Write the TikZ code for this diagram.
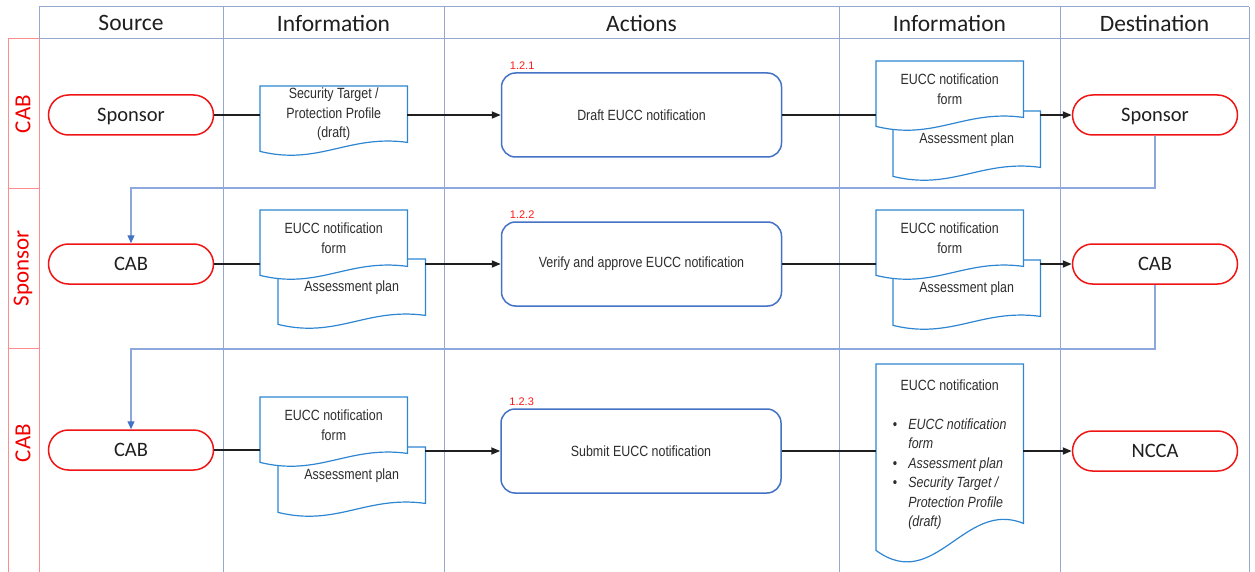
\documentclass[tikz,border=0pt]{standalone}
\usepackage{fontspec}
\setmainfont{Carlito}
\newfontfamily\docfont[FakeStretch=0.84]{Liberation Sans}
\newfontfamily\numfont{Liberation Sans}
\usetikzlibrary{arrows.meta,calc,backgrounds}

\definecolor{gridc}{RGB}{150,168,206}
\definecolor{lanered}{RGB}{255,140,140}
\definecolor{termred}{RGB}{240,20,20}
\definecolor{docblue}{RGB}{46,134,210}
\definecolor{actblue}{RGB}{68,114,196}
\definecolor{fbblue}{RGB}{140,168,220}
\definecolor{txt}{RGB}{45,45,45}

% document symbol: rectangle with a wavy lower edge; #2 = drop of the left corner
\newcommand\docshape[2]{%
  \filldraw[docline] let \p1=(#1.north west), \p2=(#1.south east) in
    (\p1) -- (\x2,\y1) -- (\p2)
    .. controls ({\x1+0.6*(\x2-\x1)},{\y2+0.9*#2pt}) and ({\x1+0.4*(\x2-\x1)},{\y2-2.6*#2pt})
    .. (\x1,{\y2-#2pt}) -- cycle;}

\begin{document}
\begin{tikzpicture}[x=1pt,y=-1pt,
  gridline/.style={draw=gridc, line width=1pt},
  laneline/.style={draw=lanered, line width=1pt},
  head/.style={font=\fontsize{23.5}{28}\selectfont, text=black!88},
  lanelab/.style={rotate=90, text=red!95!black, font=\fontsize{23}{27}\selectfont},
  term/.style={draw=termred, line width=1.5pt, fill=white, rounded corners=20pt,
    minimum width=165pt, minimum height=40pt, inner sep=0pt,
    font=\fontsize{20.5}{24}\selectfont, text=black!88, text height=13.2pt, text depth=0pt},
  act/.style={draw=actblue, line width=1.5pt, fill=white, rounded corners=14pt,
    minimum width=280pt, minimum height=84pt, inner sep=0pt,
    font=\docfont\fontsize{14.8}{19.5}\selectfont, text=txt},
  doc/.style={anchor=north west, minimum width=147pt, minimum height=56pt, inner sep=0pt,
    align=center, font=\docfont\fontsize{14.8}{19.5}\selectfont, text=txt},
  docline/.style={draw=docblue, line width=1.2pt, fill=white},
  stepnum/.style={anchor=base west, inner sep=0pt, text=red!90!white,
    font=\numfont\fontsize{11}{13}\selectfont},
  flow/.style={draw=black!88, line width=1.8pt},
  flowarrow/.style={flow, -{Triangle[length=9pt,width=7pt]}},
  fb/.style={draw=fbblue, line width=1.1pt, -{Triangle[length=8pt,width=7pt,color=actblue]}}
]
\useasboundingbox (0,0) rectangle (1255,572);

% column headers
\node[head] (hsrc) at (131,23) {Source};
\node[head] (hinf1) at (333.5,23) {Information};
\node[head] (hact) at (641.5,23) {Actions};
\node[head] (hinf2) at (949.5,23) {Information};
\node[head] (hdst) at (1154.5,23) {Destination};

% lane titles
\node[lanelab] (lane1) at (23,114) {CAB};
\node[lanelab] (lane2) at (23,268) {Sponsor};
\node[lanelab] (lane3) at (23,443) {CAB};

% sources and destinations
\node[term] (sl1) at (131,115) {Sponsor};
\node[term] (sl2) at (131,264) {CAB};
\node[term] (sl3) at (131,450) {CAB};
\node[term] (dr1) at (1155,115) {Sponsor};
\node[term] (dr2) at (1155,264) {CAB};
\node[term] (dr3) at (1155,451) {NCCA};

% actions
\node[act] (a1) at (641.5,115) {Draft EUCC notification};
\node[act] (a2) at (641.5,264) {Verify and approve EUCC notification};
\node[act] (a3) at (641,451) {Submit EUCC notification};
\node[stepnum] (n1) at ([xshift=9pt,yshift=3pt]a1.north west) {1.2.1};
\node[stepnum] (n2) at ([xshift=9pt,yshift=3pt]a2.north west) {1.2.2};
\node[stepnum] (n3) at ([xshift=9pt,yshift=3pt]a3.north west) {1.2.3};

% information documents
\node[doc] (i1) at (260,86) {Security Target /\\Protection Profile\\(draft)};
\node[doc] (i2b) at (278,259) {Assessment plan};
\node[doc] (i2f) at (260,210) {EUCC notification\\form};
\node[doc] (i3b) at (278,447) {Assessment plan};
\node[doc] (i3f) at (260,397) {EUCC notification\\form};
\node[doc] (o1b) at (893,111) {Assessment plan};
\node[doc] (o1f) at (876,61) {EUCC notification\\form};
\node[doc] (o2b) at (893,260) {Assessment plan};
\node[doc] (o2f) at (876,210) {EUCC notification\\form};
\node[doc, minimum height=159pt, text height=26pt, text depth=133pt] (o3) at (876,364) {%
  \begin{tabular}[t]{@{}l@{\hspace{11pt}}l@{}}
  \multicolumn{2}{c}{EUCC notification}\\[19.5pt]
  \textbullet & \textit{EUCC notification}\\
              & \textit{form}\\
  \textbullet & \textit{Assessment plan}\\
  \textbullet & \textit{Security Target /}\\
              & \textit{Protection Profile}\\
              & \textit{(draft)}
  \end{tabular}};

\begin{pgfonlayer}{background}
  % swimlane grid
  \draw[gridline] (39,7) -- (1249,7);
  \draw[gridline] (39,39) -- (1249,39);
  \draw[gridline] (39,7) -- (39,39);
  \foreach \gx in {223,444,839,1060,1249}
    \draw[gridline] (\gx,7) -- (\gx,572);
  \draw[laneline] (8,39) -- (39,39);
  \draw[laneline] (8,39) -- (8,572);
  \draw[laneline] (39,39) -- (39,572);
  \draw[laneline] (8,189) -- (39,189);
  \draw[laneline] (8,348) -- (39,348);
  % document symbols, back sheets first
  \docshape{i1}{9}
  \docshape{i2b}{9}
  \docshape{i2f}{9}
  \docshape{i3b}{9}
  \docshape{i3f}{9}
  \docshape{o1b}{9}
  \docshape{o1f}{9}
  \docshape{o2b}{9}
  \docshape{o2f}{9}
  \docshape{o3}{27}
\end{pgfonlayer}

% flow, lane 1
\draw[flow] (sl1.east) -- (sl1.east -| i1.west);
\draw[flowarrow] (i1.east |- a1) -- (a1.west);
\draw[flow] (a1.east) -- (a1.east -| o1f.west);
\draw[flowarrow] (o1b.east |- dr1) -- (dr1.west);
% flow, lane 2
\draw[flow] (sl2.east) -- (sl2.east -| i2f.west);
\draw[flowarrow] (i2b.east |- a2) -- (a2.west);
\draw[flow] (a2.east) -- (a2.east -| o2f.west);
\draw[flowarrow] (o2b.east |- dr2) -- (dr2.west);
% flow, lane 3
\draw[flow] (sl3.east) -- (sl3.east -| i3f.west);
\draw[flowarrow] (i3b.east |- a3) -- (a3.west);
\draw[flow] (a3.east) -- (a3.east -| o3.west);
\draw[flowarrow] (o3.east |- dr3) -- (dr3.west);

% hand-over between lanes
\coordinate (fb1) at (1155,188);
\coordinate (fb2) at (1155,349);
\draw[fb] (dr1.south) -- (fb1) -| (sl2.north);
\draw[fb] (dr2.south) -- (fb2) -| (sl3.north);
\end{tikzpicture}
\end{document}
